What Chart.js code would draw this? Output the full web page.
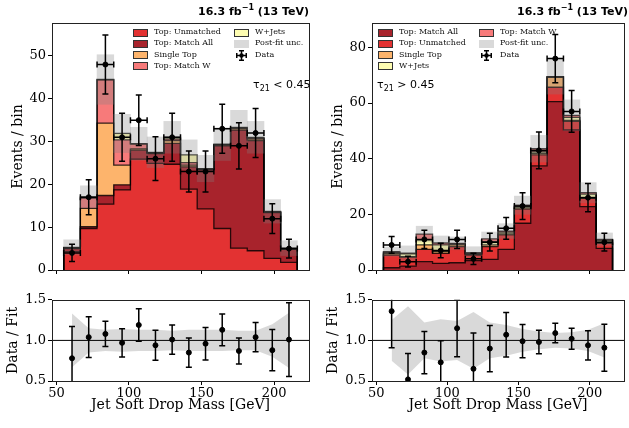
<!DOCTYPE html>
<html>
<head>
<meta charset="utf-8">
<script src="https://cdn.jsdelivr.net/npm/chart.js@4.4.1/dist/chart.umd.min.js"></script>
<style>
  html, body { margin: 0; padding: 0; background: #fff; }
  #page { position: relative; width: 629px; height: 428px; overflow: hidden; font-family: 'DejaVu Serif', serif; }
  canvas { position: absolute; }
  .lumi { position: absolute; top: 3px; font-family: 'DejaVu Sans', sans-serif; font-weight: bold; font-size: 11px; white-space: nowrap; }
  .lumi sup { font-size: 8px; }
  .tau { position: absolute; font-family: 'DejaVu Sans', sans-serif; font-size: 11px; white-space: nowrap; }
  .tau sub { font-size: 8px; }
  .leg { position: absolute; font-size: 8px; line-height: 10px; white-space: nowrap; color: #111; }
  .patch { position: absolute; width: 15px; height: 8px; box-sizing: border-box; border: 1px solid #333; }
  .icon { position: absolute; }
</style>
</head>
<body>
<div id="page">
  <canvas id="leftMain" width="320" height="280" style="left:0;top:0"></canvas>
  <canvas id="leftRatio" width="320" height="138" style="left:0;top:290px"></canvas>
  <canvas id="rightMain" width="309" height="280" style="left:320px;top:0"></canvas>
  <canvas id="rightRatio" width="309" height="138" style="left:320px;top:290px"></canvas>

  <div class="lumi" style="right:320px">16.3 fb<sup>−1</sup> (13 TeV)</div>
  <div class="lumi" style="right:1px">16.3 fb<sup>−1</sup> (13 TeV)</div>
  <div class="tau" style="left:253px;top:78px">τ<sub>21</sub> &lt; 0.45</div>
  <div class="tau" style="left:377px;top:78px">τ<sub>21</sub> &gt; 0.45</div>
  <div id="legends"></div>
</div>
<script>
// Binning (GeV) and axis ticks
const edges = [55, 66.5, 78, 89.5, 101, 112.5, 124, 135.5, 147, 158.5, 170, 181.5, 193, 204.5, 216];
const xTicks = [50, 100, 150, 200];
const leftYTicks = [0, 10, 20, 30, 40, 50];
const rightYTicks = [0, 20, 40, 60, 80];
const ratioTicks = [0.5, 1.0, 1.5];

// tau21 < 0.45 (left), stacked bottom -> top
const loUnmatched = [4.3, 9.7, 15.4, 18.7, 25.9, 24.9, 24.7, 18.9, 14.3, 9.7, 5.1, 4.5, 2.7, 1.8];
const loMatchAll  = [0.7, 0.4, 2.0, 1.2, 2.1, 2.3, 4.9, 5.2, 9.1, 19.3, 27.6, 25.7, 10.7, 3.0];
const loSingleTop = [0.1, 4.3, 16.9, 4.6, 0.3, 0.1, 0.6, 0.4, 0.1, 0.2, 0.4, 0.4, 0.1, 0.1];
const loMatchW    = [0.1, 2.4, 10.1, 5.9, 1.1, 0.1, 0.4, 0.6, 0.1, 0.1, 0.1, 0.2, 0.1, 0.1];
const loWJets     = [0.1, 0.3, 0.1, 1.5, 0.1, 0.1, 0.4, 1.8, 0.1, 0.1, 0.1, 0.2, 0.1, 0.1];
const loData      = [4, 17, 48, 31, 35, 26, 31, 23, 23, 33, 29, 32, 12, 5];
const loDataErr   = [2.0, 4.1, 6.9, 5.6, 5.9, 5.1, 5.6, 4.8, 4.8, 5.7, 5.4, 5.7, 3.5, 2.2];
const loUnc       = [0.33, 0.15, 0.13, 0.14, 0.13, 0.13, 0.12, 0.13, 0.13, 0.13, 0.12, 0.12, 0.20, 0.34];
const loRatio     = [0.78, 1.04, 1.08, 0.97, 1.19, 0.94, 1.01, 0.85, 0.96, 1.13, 0.87, 1.04, 0.88, 1.01];
const loRatioErr  = [0.39, 0.25, 0.155, 0.175, 0.2, 0.185, 0.18, 0.18, 0.2, 0.195, 0.16, 0.18, 0.255, 0.455];

// tau21 > 0.45 (right), stacked bottom -> top
const hiMatchAll  = [0.8, 1.4, 3.0, 2.4, 2.6, 3.4, 3.8, 7.4, 16.8, 37.4, 60.5, 50.4, 22.8, 7.8];
const hiUnmatched = [4.6, 3.2, 4.4, 3.6, 5.8, 2.0, 4.6, 5.2, 5.1, 4.0, 5.2, 3.0, 3.0, 1.8];
const hiSingleTop = [0.6, 0.2, 1.6, 0.6, 0.6, 0.2, 0.6, 0.4, 0.4, 0.5, 3.6, 0.4, 0.3, 0.3];
const hiWJets     = [0.3, 1.0, 1.8, 2.4, 0.3, 0.3, 1.2, 0.6, 0.5, 0.6, 0.1, 1.1, 1.2, 0.7];
const hiMatchW    = [0.3, 0.3, 2.1, 0.7, 0.3, 0.3, 1.0, 0.4, 0.5, 1.1, 0.1, 0.7, 0.5, 0.4];
const hiData      = [9, 3, 11, 7, 11, 4, 10, 15, 23, 43, 76, 57, 26, 10];
const hiDataErr   = [3.0, 1.9, 3.3, 2.6, 3.3, 2.0, 3.2, 3.9, 4.8, 6.6, 8.7, 7.5, 5.1, 3.2];
const hiUnc       = [0.25, 0.42, 0.22, 0.26, 0.24, 0.35, 0.22, 0.19, 0.14, 0.11, 0.09, 0.10, 0.13, 0.21];
const hiRatio     = [1.36, 0.52, 0.85, 0.73, 1.15, 0.65, 0.90, 1.07, 0.99, 0.98, 1.09, 1.02, 0.94, 0.91];
const hiRatioErr  = [0.45, 0.32, 0.26, 0.265, 0.35, 0.44, 0.285, 0.275, 0.205, 0.145, 0.12, 0.13, 0.18, 0.29];

// Colours
const C = {
    unmatched: '#e33232',
    matchAll: '#a8232c',
    singleTop: '#fdb46c',
    matchW: '#f77a7a',
    wjets: '#fefdb2',
    unc: 'rgba(128, 128, 128, 0.3)'
};

const serif = 'DejaVu Serif';
const xMin = 46.95, xMax = 224.05;
const centers = edges.slice(0, -1).map((e, i) => (e + edges[i + 1]) / 2);
const halfW = edges.slice(0, -1).map((e, i) => (edges[i + 1] - e) / 2);

// Step outline for one cumulative layer (closed down to zero at both ends)
function stepPoints(vals) {
    const last = edges.length - 1;
    const pts = [{ x: edges[0], y: 0 }];
    vals.forEach((v, i) => pts.push({ x: edges[i], y: v }));
    pts.push({ x: edges[last], y: vals[vals.length - 1] });
    pts.push({ x: edges[last], y: 0 });
    return pts;
}

function cumulative(layers) {
    let run = layers[0].map(() => 0);
    return layers.map(l => (run = run.map((v, i) => v + l[i])));
}

// Error bars drawn through the chart's scales
const errorBars = {
    id: 'errorBars',
    afterDatasetsDraw(chart) {
        const { ctx, chartArea, scales: { x, y } } = chart;
        ctx.save();
        ctx.beginPath();
        ctx.rect(chartArea.left, chartArea.top, chartArea.width, chartArea.height);
        ctx.clip();
        ctx.strokeStyle = '#000';
        ctx.lineWidth = 1.5;
        chart.data.datasets.forEach(ds => {
            if (!ds.errY) return;
            ds.data.forEach((p, i) => {
                const px = x.getPixelForValue(p.x);
                const py = y.getPixelForValue(p.y);
                const top = y.getPixelForValue(p.y + ds.errY[i]);
                const bot = y.getPixelForValue(p.y - ds.errY[i]);
                ctx.beginPath();
                ctx.moveTo(px, top); ctx.lineTo(px, bot);
                ctx.moveTo(px - 3, top); ctx.lineTo(px + 3, top);
                ctx.moveTo(px - 3, bot); ctx.lineTo(px + 3, bot);
                if (ds.errX) {
                    const l = x.getPixelForValue(p.x - ds.errX[i]);
                    const r = x.getPixelForValue(p.x + ds.errX[i]);
                    ctx.moveTo(l, py); ctx.lineTo(r, py);
                    ctx.moveTo(l, py - 3); ctx.lineTo(l, py + 3);
                    ctx.moveTo(r, py - 3); ctx.lineTo(r, py + 3);
                }
                ctx.stroke();
            });
        });
        ctx.restore();
    }
};

// Box around the plotting area
const frame = {
    id: 'frame',
    afterDraw(chart) {
        const { ctx, chartArea: a } = chart;
        ctx.save();
        ctx.strokeStyle = '#222';
        ctx.lineWidth = 1;
        ctx.strokeRect(Math.round(a.left) + 0.5, Math.round(a.top) + 0.5, Math.round(a.width), Math.round(a.height));
        ctx.restore();
    }
};

const tickGrid = { display: true, drawOnChartArea: false, drawTicks: true, tickLength: 4, color: '#000' };

function xScale(showLabels) {
    return {
        type: 'linear', min: xMin, max: xMax, offset: false,
        afterBuildTicks: a => { a.ticks = xTicks.map(v => ({ value: v })); },
        grid: Object.assign({ offset: false }, tickGrid),
        border: { display: false },
        ticks: { display: showLabels, autoSkip: false, maxRotation: 0, color: '#000', padding: 1,
                 font: { family: serif, size: 13 } },
        title: showLabels
            ? { display: true, text: 'Jet Soft Drop Mass [GeV]', color: '#000', font: { family: serif, size: 14 }, padding: { top: 0, bottom: 14 } }
            : { display: false },
        afterFit: s => { s.height = showLabels ? 47 : 10; }
    };
}

function yScale(min, max, ticks, label, titlePad, fmt) {
    return {
        type: 'linear', min: min, max: max,
        afterBuildTicks: a => { a.ticks = ticks.map(v => ({ value: v })); },
        grid: tickGrid,
        border: { display: false },
        ticks: { color: '#000', padding: 2, font: { family: serif, size: 13 }, callback: fmt },
        title: { display: true, text: label, color: '#000', font: { family: serif, size: 14 }, padding: { top: titlePad, bottom: 0 } },
        afterFit: s => { s.width = 52; }
    };
}

function mainChart(id, layers, colors, data, dataErr, unc, yMax, yTicks, padRight) {
    const cum = cumulative(layers);
    const total = cum[cum.length - 1];
    const datasets = cum.map((vals, i) => ({
        type: 'line',
        data: stepPoints(vals),
        stepped: true,
        borderColor: 'rgba(0, 0, 0, 0.8)',
        borderWidth: 1.3,
        backgroundColor: colors[i],
        fill: 'origin',
        pointRadius: 0,
        order: 10 + i
    }));
    datasets.push({
        type: 'bar',
        data: centers.map((c, i) => ({ x: c, y: [total[i] * (1 - unc[i]), total[i] * (1 + unc[i])] })),
        backgroundColor: C.unc,
        borderWidth: 0,
        barPercentage: 1,
        categoryPercentage: 1,
        order: 3
    });
    datasets.push({
        type: 'line',
        data: centers.map((c, i) => ({ x: c, y: data[i] })),
        showLine: false,
        pointRadius: 2.5,
        pointBackgroundColor: '#000',
        pointBorderColor: '#000',
        errY: dataErr,
        errX: halfW,
        order: 1
    });
    return new Chart(document.getElementById(id), {
        type: 'line',
        data: { datasets: datasets },
        options: {
            responsive: false,
            animation: false,
            layout: { padding: { top: 23, right: padRight, left: 0, bottom: 0 } },
            plugins: { legend: { display: false }, tooltip: { enabled: false }, filler: { drawTime: 'beforeDatasetsDraw' } },
            scales: {
                x: xScale(false),
                y: yScale(0, yMax, yTicks, 'Events / bin', 10)
            }
        },
        plugins: [errorBars, frame]
    });
}

function ratioChart(id, ratio, ratioErr, unc, padRight) {
    const datasets = [
        {
            type: 'line',
            data: [{ x: xMin, y: 1 }, { x: xMax, y: 1 }],
            borderColor: '#000', borderWidth: 1, pointRadius: 0, fill: false, order: 2
        },
        {
            type: 'line',
            data: centers.map((c, i) => ({ x: c, y: 1 + unc[i] })),
            borderColor: 'transparent', borderWidth: 0, pointRadius: 0,
            fill: '+1', backgroundColor: C.unc, order: 5
        },
        {
            type: 'line',
            data: centers.map((c, i) => ({ x: c, y: 1 - unc[i] })),
            borderColor: 'transparent', borderWidth: 0, pointRadius: 0, fill: false, order: 6
        },
        {
            type: 'line',
            data: centers.map((c, i) => ({ x: c, y: ratio[i] })),
            showLine: false,
            pointRadius: 2.5,
            pointBackgroundColor: '#000',
            pointBorderColor: '#000',
            errY: ratioErr,
            order: 1
        }
    ];
    return new Chart(document.getElementById(id), {
        type: 'line',
        data: { datasets: datasets },
        options: {
            responsive: false,
            animation: false,
            layout: { padding: { top: 8, right: padRight, left: 0, bottom: 0 } },
            plugins: { legend: { display: false }, tooltip: { enabled: false }, filler: { drawTime: 'beforeDatasetsDraw' } },
            scales: {
                x: xScale(true),
                y: yScale(0.5, 1.5, ratioTicks, 'Data / Fit', 5, v => v.toFixed(1))
            }
        },
        plugins: [errorBars, frame]
    });
}

mainChart('leftMain',
    [loUnmatched, loMatchAll, loSingleTop, loMatchW, loWJets],
    [C.unmatched, C.matchAll, C.singleTop, C.matchW, C.wjets],
    loData, loDataErr, loUnc, 57.7, leftYTicks, 11);
ratioChart('leftRatio', loRatio, loRatioErr, loUnc, 11);

mainChart('rightMain',
    [hiMatchAll, hiUnmatched, hiSingleTop, hiWJets, hiMatchW],
    [C.matchAll, C.unmatched, C.singleTop, C.wjets, C.matchW],
    hiData, hiDataErr, hiUnc, 88.8, rightYTicks, 1);
ratioChart('rightRatio', hiRatio, hiRatioErr, hiUnc, 1);

// Legends (HTML text)
const dataIcon = '<svg class="icon" width="15" height="11" viewBox="0 0 15 11"><g stroke="#000" stroke-width="1.5" fill="none">' +
    '<line x1="7.5" y1="0.5" x2="7.5" y2="10.5"/><line x1="5" y1="0.75" x2="10" y2="0.75"/><line x1="5" y1="10.25" x2="10" y2="10.25"/>' +
    '<line x1="2" y1="5.5" x2="13" y2="5.5"/><line x1="2.75" y1="3" x2="2.75" y2="8"/><line x1="12.25" y1="3" x2="12.25" y2="8"/></g>' +
    '<circle cx="7.5" cy="5.5" r="2.2" fill="#000"/></svg>';

const legendRows = [32.7, 43.7, 55, 66.3];
function legend(entries) {
    let html = '';
    entries.forEach(e => {
        const cy = legendRows[e.row];
        if (e.kind === 'data') {
            html += `<div class="icon" style="left:${e.px}px;top:${cy - 5.5}px">${dataIcon}</div>`;
        } else if (e.kind === 'band') {
            html += `<div class="patch" style="left:${e.px}px;top:${cy - 4}px;background:#d9d9d9;border:none"></div>`;
        } else {
            html += `<div class="patch" style="left:${e.px}px;top:${cy - 4}px;background:${e.color}"></div>`;
        }
        html += `<div class="leg" style="left:${e.px + 21}px;top:${cy - 5.5}px">${e.label}</div>`;
    });
    return html;
}

document.getElementById('legends').innerHTML =
    legend([
        { row: 0, px: 133, color: C.unmatched, label: 'Top: Unmatched' },
        { row: 1, px: 133, color: C.matchAll, label: 'Top: Match All' },
        { row: 2, px: 133, color: C.singleTop, label: 'Single Top' },
        { row: 3, px: 133, color: C.matchW, label: 'Top: Match W' },
        { row: 0, px: 234, color: C.wjets, label: 'W+Jets' },
        { row: 1, px: 234, kind: 'band', label: 'Post-fit unc.' },
        { row: 2, px: 234, kind: 'data', label: 'Data' }
    ]) +
    legend([
        { row: 0, px: 378, color: C.matchAll, label: 'Top: Match All' },
        { row: 1, px: 378, color: C.unmatched, label: 'Top: Unmatched' },
        { row: 2, px: 378, color: C.singleTop, label: 'Single Top' },
        { row: 3, px: 378, color: C.wjets, label: 'W+Jets' },
        { row: 0, px: 479, color: C.matchW, label: 'Top: Match W' },
        { row: 1, px: 479, kind: 'band', label: 'Post-fit unc.' },
        { row: 2, px: 479, kind: 'data', label: 'Data' }
    ]);
</script>
</body>
</html>
